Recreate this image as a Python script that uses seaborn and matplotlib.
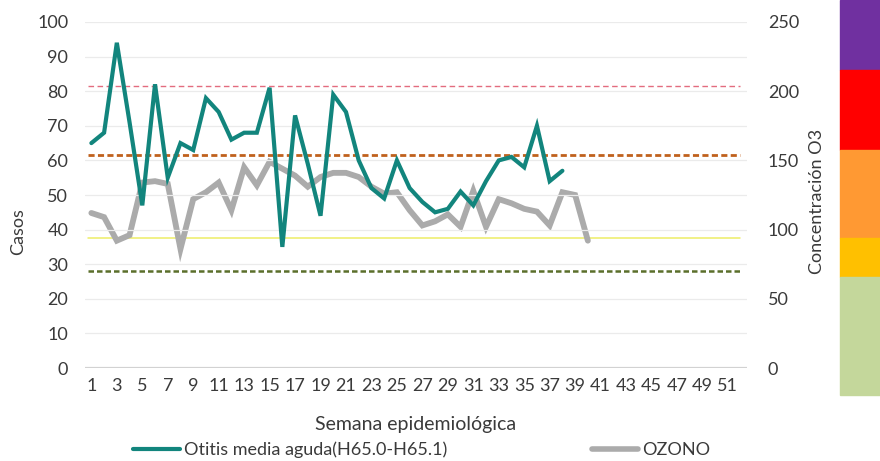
import matplotlib
matplotlib.use("Agg")
import matplotlib.pyplot as plt
from matplotlib.patches import Rectangle
from matplotlib.lines import Line2D
import seaborn as sns
import pandas as pd

# Weekly series
weeks = list(range(1, 53))
otitis = [65, 68, 94, 71, 47, 82, 55, 65, 63, 78, 74, 66, 68, 68, 81, 35, 73, 59, 44,
          79, 74, 60, 52, 49, 60, 52, 48, 45, 46, 51, 47, 54, 60, 61, 58, 70, 54, 57]
ozono = [112, 109, 92, 96, 134, 135, 133, 86, 122, 127, 134, 114, 145, 132, 149, 144,
         139, 131, 138, 141, 141, 138, 131, 126, 127, 114, 103, 106, 111, 102, 128, 102,
         122, 119, 115, 113, 103, 127, 125, 92]

# Ozone reference thresholds (right axis units)
thr_values = [204, 154, 94, 70]
thr_colors = ["#e36c7f", "#c0611d", "#eeee66", "#5b6f2b"]

left_ticks = list(range(0, 101, 10))
right_ticks = list(range(0, 251, 50))
xtick_labels = [str(w) for w in range(1, 52, 2)]

serie_otitis = "Otitis media aguda(H65.0-H65.1)"
serie_ozono = "OZONO"

df_o = pd.DataFrame({"semana": weeks[:len(otitis)], "casos": otitis})
df_z = pd.DataFrame({"semana": weeks[:len(ozono)], "conc": ozono})

sns.set_theme(style="white")
plt.rcParams["font.family"] = ["Lato", "DejaVu Sans"]
txt = "#3a3a3a"
fs = 13

fig = plt.figure(figsize=(8.8, 4.61), dpi=100)
ax = fig.add_axes([85 / 880, 1 - 368 / 461, (747 - 85) / 880, (368 - 22) / 461])
ax2 = ax.twinx()

teal = "#12857d"
gray = "#ababab"

# gridlines on the left scale
for v in left_ticks[1:]:
    ax.axhline(v, color="#ebebeb", lw=0.9, zorder=0)
ax.axhline(0, color="#d2d2d2", lw=1.6, zorder=1)

# threshold lines
styles = [dict(lw=1.0, ls=(0, (4, 2.5))),
          dict(lw=2.0, ls=(0, (2.2, 1.2))),
          dict(lw=1.1, ls="-"),
          dict(lw=1.8, ls=(0, (2.2, 1.2)))]
for v, c, s in zip(thr_values, thr_colors, styles):
    ax2.axhline(v, xmin=0.005, xmax=0.99, color=c, zorder=1, **s)

sns.lineplot(data=df_z, x="semana", y="conc", ax=ax2, color=gray, lw=4.2,
             solid_joinstyle="miter", zorder=3)
sns.lineplot(data=df_o, x="semana", y="casos", ax=ax, color=teal, lw=3.0,
             solid_joinstyle="miter", zorder=4)

# draw teal above the ozone axis
ax.set_zorder(ax2.get_zorder() + 1)
ax.patch.set_visible(False)

ax.set_xlim(0.5, 52.5)
ax.set_ylim(0, 100)
ax2.set_ylim(0, 250)
ax.set_xticks(list(range(1, 52, 2)))
ax.set_xticklabels(xtick_labels)
ax.set_yticks(left_ticks)
ax2.set_yticks(right_ticks)
ax.set_xlabel("")
ax.set_ylabel("")
ax2.set_xlabel("")
ax2.set_ylabel("")

for a in (ax, ax2):
    for sp in a.spines.values():
        sp.set_visible(False)
    a.grid(False)

ax.tick_params(axis="y", length=0, pad=12, labelsize=fs, labelcolor=txt)
ax.tick_params(axis="x", length=0, pad=7, labelsize=fs, labelcolor=txt)
ax2.tick_params(axis="y", length=0, pad=15, labelsize=fs, labelcolor=txt)

fig.text(18 / 880, 1 - 232 / 461, "Casos", rotation=90, ha="center", va="center",
         fontsize=fs, color=txt)
fig.text(817 / 880, 1 - 201 / 461, "Concentración O3", rotation=90, ha="center",
         va="center", fontsize=fs, color=txt)
fig.text(416 / 880, 1 - 424 / 461, "Semana epidemiológica", ha="center", va="center",
         fontsize=14, color=txt)

handles = [Line2D([], [], color=teal, lw=3.0), Line2D([], [], color=gray, lw=4.0)]
fig.legend(handles, [serie_otitis, serie_ozono], loc="center left",
           bbox_to_anchor=(117 / 880, 1 - 450 / 461), ncol=2, frameon=False,
           fontsize=fs, handlelength=2.6, handletextpad=0.2, columnspacing=8.0,
           labelcolor=txt)

# side colour scale
bands = [(0, 70, "#7030a0"), (70, 150, "#ff0000"), (150, 238, "#ff9933"),
         (238, 277, "#ffc000"), (277, 395, "#c4d79b")]
for top, bot, c in bands:
    fig.patches.append(Rectangle((840 / 880, 1 - bot / 461), 40 / 880, (bot - top) / 461,
                                 transform=fig.transFigure, color=c, zorder=0))

fig.savefig("out.png", dpi=100)
